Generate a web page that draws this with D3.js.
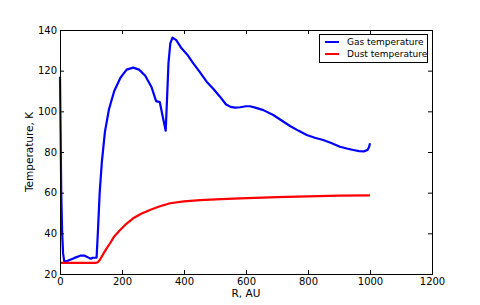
<!DOCTYPE html>
<html>
<head>
<meta charset="utf-8">
<script src="https://cdn.jsdelivr.net/npm/d3@7"></script>
<style>
  body { margin: 0; background: #fff; }
  text { font-family: "DejaVu Sans", sans-serif; }
</style>
</head>
<body>
<div id="chart"></div>
<script>
// radius (AU) and temperature (K)
var gasR = [0, 2, 4, 7, 10, 14, 25, 45, 65, 80, 95, 100, 105, 118, 122, 128, 135, 145, 158, 175, 195, 215, 236, 255, 275, 295, 310, 322, 332, 341, 345, 350, 356, 363, 375, 392, 410, 430, 450, 473, 495, 516, 535, 550, 565, 581, 600, 613, 630, 656, 688, 715, 742, 770, 796, 822, 849, 875, 903, 925, 946, 965, 980, 992, 997, 1000];
var gasT = [117, 90, 60, 40, 30, 26, 26.5, 27.8, 29, 29, 27.8, 27.5, 28, 28, 40, 60, 75, 90, 101, 110, 116.5, 120.5, 121.5, 120.5, 117.5, 112, 105, 104.5, 97, 90.5, 105, 124, 133.5, 136.3, 135, 131, 128, 123.6, 119.5, 114.6, 111, 107.2, 103.5, 102.2, 101.8, 102, 102.5, 102.5, 101.8, 100.6, 98.2, 95.5, 92.8, 90.4, 88.4, 87, 85.9, 84.4, 82.6, 81.7, 81, 80.4, 80.3, 81, 82.5, 84.3];

var dustR = [0, 115, 122, 129, 140, 150, 161, 175, 194, 215, 236, 262, 290, 320, 355, 400, 452, 520, 581, 700, 800, 900, 1000];
var dustT = [25.5, 25.5, 25.8, 27, 30, 32.5, 35, 38.5, 41.6, 44.8, 47.4, 49.6, 51.5, 53.2, 54.8, 55.7, 56.3, 56.8, 57.2, 57.8, 58.2, 58.5, 58.7];

var xTicks = [0, 200, 400, 600, 800, 1000, 1200];
var yTicks = [20, 40, 60, 80, 100, 120, 140];
var seriesNames = ["Gas temperature", "Dust temperature"];
var seriesColors = ["#0000ff", "#ff0000"];

var margin = {top: 30, right: 48, bottom: 31, left: 60},
    width = 480 - margin.left - margin.right,
    height = 305 - margin.top - margin.bottom;

var svg = d3.select("#chart")
  .append("svg")
    .attr("width", 480)
    .attr("height", 305)
  .append("g")
    .attr("transform", "translate(" + margin.left + "," + margin.top + ")");

var x = d3.scaleLinear().domain([0, 1200]).range([0, width]);
var y = d3.scaleLinear().domain([20, 140]).range([height, 0]);

var line = d3.line()
  .x(function(d) { return x(d[0]); })
  .y(function(d) { return y(d[1]); });

var gas = gasR.map(function(r, i) { return [r, gasT[i]]; });
var dust = dustR.map(function(r, i) { return [r, dustT[i]]; });

[gas, dust].forEach(function(s, i) {
  svg.append("path")
    .datum(s)
    .attr("fill", "none")
    .attr("stroke", seriesColors[i])
    .attr("stroke-width", 2.2)
    .attr("stroke-linejoin", "round")
    .attr("d", line);
});

// matplotlib style inward ticks on all four sides
function styleAxis(g) {
  g.select(".domain").remove();
  g.selectAll("line").attr("stroke", "#000");
  g.selectAll("text").style("font-size", "10px").attr("fill", "#000");
}

var fmt = d3.format("d");

svg.append("g")
  .attr("transform", "translate(0," + height + ")")
  .call(d3.axisBottom(x).tickValues(xTicks).tickSize(-4).tickPadding(4).tickFormat(fmt))
  .call(styleAxis);
svg.append("g")
  .call(d3.axisTop(x).tickValues(xTicks).tickSize(-4).tickFormat(""))
  .call(styleAxis);
svg.append("g")
  .call(d3.axisLeft(y).tickValues(yTicks).tickSize(-4).tickPadding(3).tickFormat(fmt))
  .call(styleAxis);
svg.append("g")
  .attr("transform", "translate(" + width + ",0)")
  .call(d3.axisRight(y).tickValues(yTicks).tickSize(-4).tickFormat(""))
  .call(styleAxis);

svg.append("rect")
  .attr("x", 0.5).attr("y", 0.5)
  .attr("width", width).attr("height", height)
  .attr("fill", "none")
  .attr("stroke", "#000")
  .attr("stroke-width", 1);

svg.append("text")
  .attr("x", width / 2)
  .attr("y", height + 23)
  .style("font-size", "10.5px")
  .style("text-anchor", "middle")
  .text("R, AU");

svg.append("text")
  .attr("transform", "rotate(-90)")
  .attr("x", -height / 2)
  .attr("y", -27)
  .style("font-size", "10.5px")
  .style("text-anchor", "middle")
  .text("Temperature, K");

// legend
var legend = svg.append("g")
  .attr("transform", "translate(" + (width - 113) + ",4)");
legend.append("rect")
  .attr("x", 0.5).attr("y", 0.5)
  .attr("width", 108).attr("height", 28)
  .attr("fill", "#fff")
  .attr("stroke", "#000");
seriesNames.forEach(function(n, i) {
  legend.append("line")
    .attr("x1", 6).attr("x2", 20)
    .attr("y1", 8 + i * 12).attr("y2", 8 + i * 12)
    .attr("stroke", seriesColors[i])
    .attr("stroke-width", 2);
  legend.append("text")
    .attr("x", 28)
    .attr("y", 11 + i * 12)
    .style("font-size", "9px")
    .text(n);
});
</script>
</body>
</html>
